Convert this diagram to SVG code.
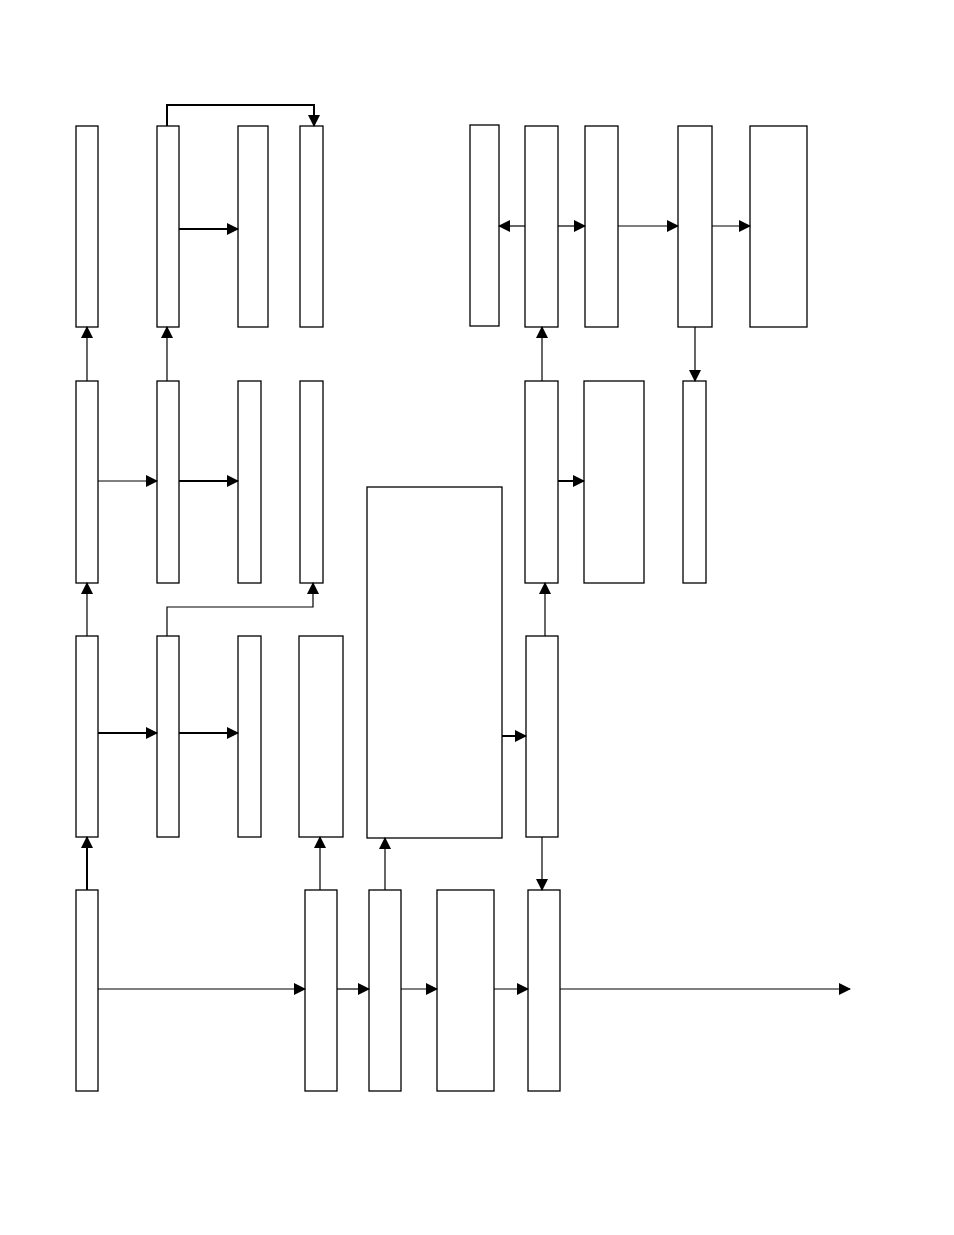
<svg xmlns="http://www.w3.org/2000/svg" width="954" height="1235" viewBox="0 0 954 1235">
<style>
rect{fill:#fff;stroke:#000;stroke-width:1.3}
.c path{fill:none;stroke:#000;stroke-width:1.2}
.c .t{stroke-width:2}
</style>
<defs>
<marker id="a" markerWidth="12" markerHeight="12" refX="11" refY="6" orient="auto" markerUnits="userSpaceOnUse"><path d="M0,0 L12,6 L0,12 z" fill="#000"/></marker>
</defs>
<rect width="954" height="1235" style="stroke:none"/>
<g id="A1"><rect x="76" y="126" width="22" height="201"/></g>
<g id="A2"><rect x="157" y="126" width="22" height="201"/></g>
<g id="A3"><rect x="238" y="126" width="30" height="201"/></g>
<g id="A4"><rect x="300" y="126" width="23" height="201"/></g>
<g id="B1"><rect x="470" y="125" width="29" height="201"/></g>
<g id="B2"><rect x="525" y="126" width="33" height="201"/></g>
<g id="B3"><rect x="585" y="126" width="33" height="201"/></g>
<g id="B4"><rect x="678" y="126" width="34" height="201"/></g>
<g id="B5"><rect x="750" y="126" width="57" height="201"/></g>
<g id="C1"><rect x="76" y="381" width="22" height="202"/></g>
<g id="C2"><rect x="157" y="381" width="22" height="202"/></g>
<g id="C3"><rect x="238" y="381" width="23" height="202"/></g>
<g id="C4"><rect x="300" y="381" width="23" height="202"/></g>
<g id="D1"><rect x="525" y="381" width="33" height="202"/></g>
<g id="D2"><rect x="584" y="381" width="60" height="202"/></g>
<g id="D3"><rect x="683" y="381" width="23" height="202"/></g>
<g id="BIG"><rect x="367" y="487" width="135" height="351"/></g>
<g id="E1"><rect x="76" y="636" width="22" height="201"/></g>
<g id="E2"><rect x="157" y="636" width="22" height="201"/></g>
<g id="E3"><rect x="238" y="636" width="23" height="201"/></g>
<g id="E4"><rect x="299" y="636" width="44" height="201"/></g>
<g id="F1"><rect x="526" y="636" width="32" height="201"/></g>
<g id="G1"><rect x="76" y="890" width="22" height="201"/></g>
<g id="G2"><rect x="305" y="890" width="32" height="201"/></g>
<g id="G3"><rect x="369" y="890" width="32" height="201"/></g>
<g id="G4"><rect x="437" y="890" width="57" height="201"/></g>
<g id="G5"><rect x="528" y="890" width="32" height="201"/></g>
<g class="c" id="connectors">
<path class="t" d="M167,126 V105 H314 V126" marker-end="url(#a)"/>
<path class="t" d="M179,229 H238" marker-end="url(#a)"/>
<path d="M87,381 V327" marker-end="url(#a)"/>
<path d="M167,381 V327" marker-end="url(#a)"/>
<path d="M98,481 H157" marker-end="url(#a)"/>
<path class="t" d="M179,481 H238" marker-end="url(#a)"/>
<path d="M87,636 V583" marker-end="url(#a)"/>
<path d="M167,636 V607 H313 V583" marker-end="url(#a)"/>
<path class="t" d="M98,733 H157" marker-end="url(#a)"/>
<path class="t" d="M179,733 H238" marker-end="url(#a)"/>
<path class="t" d="M87,890 V837" marker-end="url(#a)"/>
<path d="M98,989 H305" marker-end="url(#a)"/>
<path d="M320,890 V837" marker-end="url(#a)"/>
<path d="M385,890 V838" marker-end="url(#a)"/>
<path d="M337,989 H369" marker-end="url(#a)"/>
<path d="M401,989 H437" marker-end="url(#a)"/>
<path d="M494,989 H528" marker-end="url(#a)"/>
<path d="M560,989 H850" marker-end="url(#a)"/>
<path class="t" d="M502,736 H526" marker-end="url(#a)"/>
<path d="M542,837 V890" marker-end="url(#a)"/>
<path d="M545,636 V583" marker-end="url(#a)"/>
<path class="t" d="M558,481 H584" marker-end="url(#a)"/>
<path d="M542,381 V327" marker-end="url(#a)"/>
<path d="M525,226 H499" marker-end="url(#a)"/>
<path d="M558,226 H585" marker-end="url(#a)"/>
<path d="M618,226 H678" marker-end="url(#a)"/>
<path d="M712,226 H750" marker-end="url(#a)"/>
<path d="M695,327 V381" marker-end="url(#a)"/>
</g>
</svg>
